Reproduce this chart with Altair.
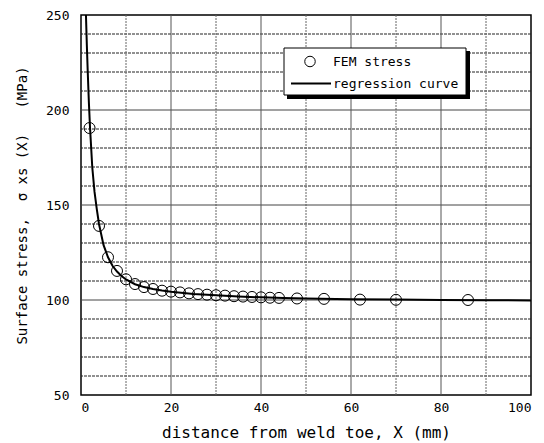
import altair as alt
import pandas as pd

# FEM stress points
fem_x = [1.9, 4, 6, 8, 10, 12, 14, 16, 18, 20, 22, 24, 26, 28, 30, 32, 34, 36, 38, 40, 42, 44, 48, 54, 62, 70, 86]
fem_y = [190.5, 139, 122.5, 115.3, 110.9, 108.4, 106.8, 105.8, 104.9, 104.4, 104.0, 103.5, 103.1, 102.8, 102.5,
         102.3, 102.0, 101.8, 101.6, 101.4, 101.2, 101.1, 100.8, 100.6, 100.2, 100.1, 100.0]

# regression curve
curve_x = [1.1, 1.3, 1.5, 1.75, 2, 2.5, 3, 3.5, 4, 5, 6, 7, 8, 9, 10, 12, 14, 16, 18, 20, 25, 30, 35, 40, 45, 50,
           60, 70, 80, 90, 100]
curve_y = [250, 234, 220, 204, 191, 170, 157, 148, 140, 129, 122.5, 118, 115, 112.6, 110.8, 108.3, 106.8, 105.8,
           105.0, 104.4, 103.2, 102.5, 101.9, 101.4, 101.0, 100.8, 100.4, 100.2, 100.0, 99.9, 99.8]

x_ticks = [0, 20, 40, 60, 80, 100]
y_ticks = [50, 100, 150, 200, 250]
x_grid_solid = [20, 40, 60, 80]
x_grid_dot = [10, 30, 50, 70, 90]
y_grid_solid = [100, 150, 200]
y_grid_dot = [60, 70, 80, 90, 110, 120, 130, 140, 160, 170, 180, 190, 210, 220, 230, 240]

FONT = "DejaVu Sans Mono"
NB = "\u00a0"
Y_TITLE = "Surface stress," + NB * 2 + "σ" + NB + "xs" + NB + "(X)" + NB * 3 + "(MPa)"
X_TITLE = "distance from weld toe, X (mm)"

xs = alt.Scale(domain=[0, 100], nice=False, zero=False)
ys = alt.Scale(domain=[50, 250], nice=False, zero=False)

fem = pd.DataFrame({"x": fem_x, "y": fem_y})
curve = pd.DataFrame({"x": curve_x, "y": curve_y})

def vrules(vals, color, dash):
    df = pd.DataFrame({"v": vals})
    kw = dict(color=color, strokeWidth=1)
    if dash:
        kw["strokeDash"] = dash
    return alt.Chart(df).mark_rule(**kw).encode(x=alt.X("v:Q", scale=xs))

def hrules(vals, color, dash):
    df = pd.DataFrame({"v": vals})
    kw = dict(color=color, strokeWidth=1)
    if dash:
        kw["strokeDash"] = dash
    return alt.Chart(df).mark_rule(**kw).encode(y=alt.Y("v:Q", scale=ys))

grid = [
    hrules(y_grid_dot, "#222", [3, 1]),
    vrules(x_grid_dot, "#666", [2, 1]),
    hrules(y_grid_solid, "#444", None),
    vrules(x_grid_solid, "#555", None),
]

line = alt.Chart(curve).mark_line(color="black", strokeWidth=2, clip=True).encode(
    x=alt.X("x:Q", scale=xs, axis=alt.Axis(values=x_ticks, grid=False, ticks=False, domain=False,
                                          title=X_TITLE, labelPadding=6, titlePadding=10)),
    y=alt.Y("y:Q", scale=ys, axis=alt.Axis(values=y_ticks, grid=False, ticks=False, domain=False,
                                          title=Y_TITLE, labelPadding=12, titlePadding=16)),
)

points = alt.Chart(fem).mark_point(shape="circle", size=121, filled=False, color="black",
                                   strokeWidth=1, opacity=1).encode(
    x=alt.X("x:Q", scale=xs), y=alt.Y("y:Q", scale=ys))

one = alt.Data(values=[{"a": 1}])
shadow = alt.Chart(one).mark_rect(color="black").encode(
    x=alt.value(206), x2=alt.value(389), y=alt.value(36), y2=alt.value(84))
box = alt.Chart(one).mark_rect(fill="white", stroke="black", strokeWidth=1).encode(
    x=alt.value(203), x2=alt.value(385), y=alt.value(33), y2=alt.value(80))
leg_pt = alt.Chart(one).mark_point(shape="circle", size=110, filled=False, color="black",
                                   strokeWidth=1, opacity=1).encode(x=alt.value(229), y=alt.value(46.5))
leg_line = alt.Chart(one).mark_rule(color="black", strokeWidth=2).encode(
    x=alt.value(210), x2=alt.value(250), y=alt.value(68.5))
leg_t1 = alt.Chart(one).mark_text(text="FEM stress", align="left", baseline="middle", font=FONT,
                                  fontSize=13, color="black").encode(x=alt.value(252), y=alt.value(46.5))
leg_t2 = alt.Chart(one).mark_text(text="regression curve", align="left", baseline="middle", font=FONT,
                                  fontSize=13, color="black").encode(x=alt.value(252), y=alt.value(68.5))

chart = alt.layer(*grid, line, points, shadow, box, leg_pt, leg_line, leg_t1, leg_t2).properties(
    width=450, height=380, autosize="none",
    padding={"left": 81, "top": 15, "right": 13, "bottom": 48},
    background="white",
).configure_view(stroke="black", strokeWidth=1.5).configure_axis(
    labelFont=FONT, labelFontSize=13, labelColor="black",
    titleFont=FONT, titleFontSize=16, titleColor="black", titleFontWeight="normal",
).configure_axisY(titleFontSize=14)

chart.save("out.html", embed_options={"renderer": "svg", "actions": False})
